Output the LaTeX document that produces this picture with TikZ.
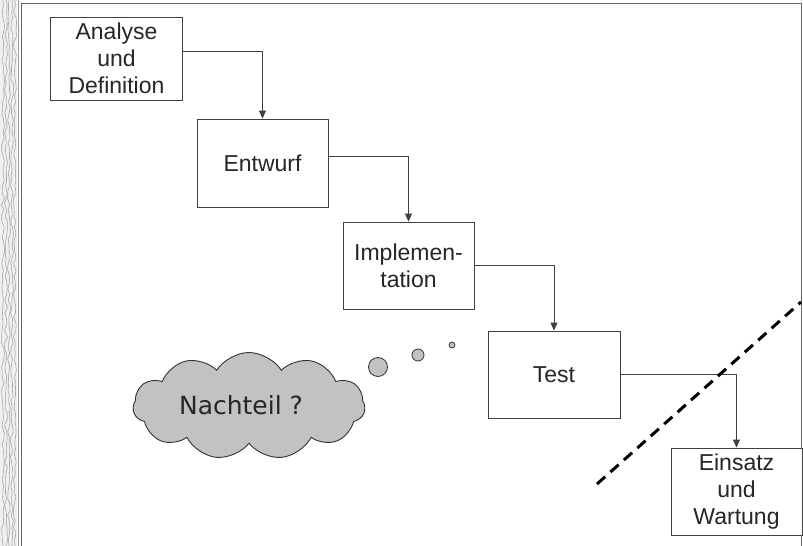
\documentclass[tikz,border=0pt]{standalone}
\usepackage{fontspec}
\setmainfont{Liberation Sans}
\newfontfamily\cloudfont{DejaVu Sans}
\usetikzlibrary{arrows.meta,shapes.symbols,decorations.pathmorphing}

\tikzset{
  stage/.style={draw=black!75, line width=0.9pt, fill=white, text=black!85,
    minimum width=131pt, minimum height=87pt, align=center, inner sep=0pt,
    font=\fontsize{23}{27}\selectfont},
  flow/.style={draw=black!75, line width=0.9pt,
    -{Triangle[length=8pt,width=7pt]}},
  bubble/.style={draw=black!80, line width=0.8pt, fill=black!24},
  limit/.style={draw=black, line width=3pt, dash pattern=on 11pt off 7pt},
  frameline/.style={draw=black!60, line width=1pt},
  grain/.style={draw=black!35, line width=0.6pt,
    decorate, decoration={random steps, segment length=6pt, amplitude=1.5pt}}
}

\begin{document}
\begin{tikzpicture}[x=1pt, y=-1pt]
  \useasboundingbox (0,0) rectangle (803,546);
  \fill[white] (0,0) rectangle (803,546);

  % textured strip along the left edge
  \pgfmathsetseed{7}
  \fill[black!6] (0,0) rectangle (17,546);
  \foreach \gx in {3,6,9,12,15}{
    \draw[grain] (\gx,0) -- (\gx,546);
  }
  \draw[draw=black!40, line width=0.7pt] (18,0) -- (18,546);

  % page frame
  \draw[frameline] (21,546) -- (21,3) -- (801,3) -- (801,546);

  % process stages
  \node[stage, minimum width=132pt, minimum height=83pt] (ana) at (116.5,58.5) {Analyse\\und\\Definition};
  \node[stage, minimum height=88pt] (ent) at (262.5,163) {Entwurf};
  \node[stage] (imp) at (408.5,265.5) {Implemen-\\tation};
  \node[stage, minimum width=132pt] (tst) at (554,374.5) {Test};
  \node[stage] (ein) at (736.5,491.5) {Einsatz\\und\\Wartung};

  % stage transitions
  \draw[flow] ([yshift=7.5pt]ana.east) -| (ent.north);
  \draw[flow] ([yshift=7pt]ent.east) -| (imp.north);
  \draw[flow] (imp.east) -| (tst.north);
  \draw[flow] (tst.east) -| (ein.north);

  % dashed boundary line
  \coordinate (cutA) at (597,484);
  \coordinate (cutB) at (801,302);
  \draw[limit] (cutA) -- (cutB);

  % thought cloud
  \node[cloud, cloud puffs=11, cloud puff arc=115, aspect=2.2,
        draw=black!80, line width=0.9pt, fill=black!24,
        minimum width=232pt, minimum height=107pt, inner sep=0pt] (thought) at (249,406) {};
  \node[font=\cloudfont\fontsize{25}{28}\selectfont, text=black!85] (label) at (241,405) {Nachteil ?};
  \node[bubble, circle, minimum size=19pt, inner sep=0pt] (b1) at (378,367) {};
  \node[bubble, circle, minimum size=12pt, inner sep=0pt] (b2) at (418,355) {};
  \node[bubble, circle, minimum size=6pt, inner sep=0pt] (b3) at (452,345) {};
\end{tikzpicture}
\end{document}
